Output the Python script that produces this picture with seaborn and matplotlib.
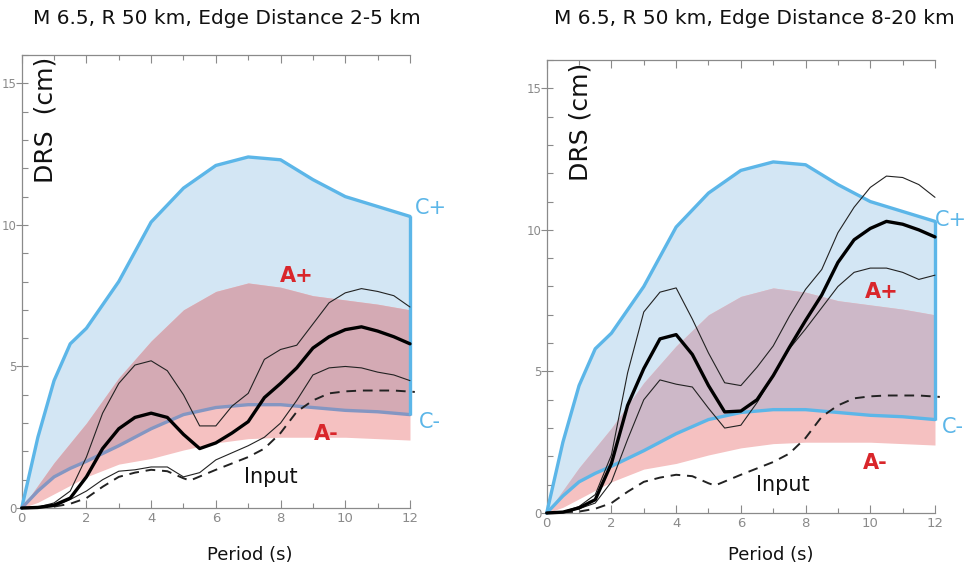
import numpy as np
import pandas as pd
import matplotlib
matplotlib.use("Agg")
import matplotlib.pyplot as plt
import seaborn as sns
from matplotlib.ticker import MultipleLocator

# ---------------- data ----------------
titles = ["M 6.5, R 50 km, Edge Distance 2-5 km", "M 6.5, R 50 km, Edge Distance 8-20 km"]

band_t = [0, 0.5, 1, 1.5, 2, 3, 4, 5, 6, 7, 8, 9, 10, 11, 12]
c_hi = [0, 2.5, 4.5, 5.8, 6.35, 8.0, 10.1, 11.3, 12.1, 12.4, 12.3, 11.6, 11.0, 10.65, 10.3]
c_lo = [0, 0.6, 1.1, 1.4, 1.65, 2.2, 2.8, 3.3, 3.55, 3.65, 3.65, 3.55, 3.45, 3.4, 3.3]
a_hi = [0, 0.8, 1.6, 2.3, 3.0, 4.6, 5.9, 7.0, 7.65, 7.95, 7.8, 7.5, 7.35, 7.2, 7.0]
a_lo = [0, 0.2, 0.5, 0.8, 1.1, 1.55, 1.75, 2.05, 2.3, 2.45, 2.5, 2.5, 2.5, 2.45, 2.4]

input_t = [0, 1, 1.5, 2, 2.5, 3, 3.5, 4, 4.5, 5, 5.2, 6, 7, 7.5, 8, 8.5, 9, 9.5, 10, 10.5, 11, 11.5, 12.15]
input_v = [0, 0.05, 0.15, 0.35, 0.75, 1.1, 1.25, 1.35, 1.3, 1.05, 0.97, 1.35, 1.8, 2.1, 2.65, 3.4, 3.8, 4.05, 4.12, 4.15, 4.15, 4.15, 4.1]

line_t = [0, 0.5, 1, 1.5, 2, 2.5, 3, 3.5, 4, 4.5, 5, 5.5, 6, 6.5, 7, 7.5, 8, 8.5, 9, 9.5, 10, 10.5, 11, 11.5, 12]
# left panel (edge distance 2-5 km)
left_mean = [0, 0.02, 0.1, 0.35, 1.1, 2.1, 2.8, 3.2, 3.35, 3.2, 2.6, 2.1, 2.3, 2.65, 3.05, 3.9, 4.4, 4.95, 5.65, 6.05, 6.3, 6.4, 6.25, 6.05, 5.8]
left_upper = [0, 0.03, 0.18, 0.6, 1.8, 3.35, 4.4, 5.05, 5.2, 4.85, 4.0, 2.9, 2.9, 3.6, 4.05, 5.25, 5.6, 5.75, 6.5, 7.25, 7.6, 7.75, 7.65, 7.5, 7.1]
left_lower = [0, 0.01, 0.05, 0.3, 0.6, 1.0, 1.3, 1.35, 1.45, 1.45, 1.1, 1.25, 1.7, 1.95, 2.2, 2.5, 3.0, 3.8, 4.7, 4.95, 5.0, 4.95, 4.8, 4.7, 4.5]
# right panel (edge distance 8-20 km)
right_mean = [0, 0.03, 0.18, 0.47, 1.75, 3.8, 5.1, 6.15, 6.3, 5.6, 4.5, 3.57, 3.6, 4.0, 4.85, 5.85, 6.8, 7.7, 8.85, 9.65, 10.05, 10.3, 10.2, 10.0, 9.75]
right_upper = [0, 0.04, 0.23, 0.65, 2.05, 4.95, 7.1, 7.8, 7.95, 6.85, 5.65, 4.6, 4.5, 5.15, 5.9, 6.95, 7.9, 8.6, 9.9, 10.8, 11.5, 11.9, 11.85, 11.6, 11.15]
right_lower = [0, 0.02, 0.15, 0.35, 1.1, 2.6, 4.0, 4.7, 4.55, 4.45, 3.7, 3.0, 3.1, 3.9, 4.85, 5.8, 6.5, 7.25, 8.0, 8.5, 8.65, 8.65, 8.5, 8.25, 8.4]

x_ticks = [0, 2, 4, 6, 8, 10, 12]
y_ticks = [0, 5, 10, 15]

# ---------------- style ----------------
sns.set_style("ticks")
plt.rcParams["font.family"] = ["DejaVu Sans"]

C_LINE = "#5cb6e8"
C_FILL = "#d3e6f4"
A_PINK = "#f5c1c1"
A_OVER = ["#d4aab4", "#cdb8c8"]
C_LO_COL = ["#8496c2", "#5cb6e8"]
RED = "#d9262b"
GREY = "#8a8a8a"

fig = plt.figure(figsize=(9.69, 5.71), dpi=100)
axes = [fig.add_axes([0.0224, 0.1103, 0.4007, 0.7933]),
        fig.add_axes([0.5642, 0.1016, 0.4007, 0.7933])]

panels = [(left_mean, left_upper, left_lower), (right_mean, right_upper, right_lower)]
labels_pos = [
    {"A+": (8.5, 8.2), "A-": (9.4, 2.6), "C+": (12.65, 10.6), "C-": (12.6, 3.05), "Input": (7.7, 1.1)},
    {"A+": (10.35, 7.8), "A-": (10.15, 1.75), "C+": (12.5, 10.35), "C-": (12.55, 3.05), "Input": (7.3, 1.0)},
]
ylabel_text = ["DRS  (cm)", "DRS (cm)"]
ylabel_pos = [(0.06, 0.857), (0.086, 0.863)]
fig_xlab = [0.258, 0.795]
fig_title = [0.234, 0.778]

bt = np.array(band_t)
for i, ax in enumerate(axes):
    mean, upper, lower = panels[i]
    # C band
    ax.fill_between(bt, c_lo, c_hi, color=C_FILL, lw=0, zorder=1)
    # A band (pink on white, mauve where overlapping the C band)
    ax.fill_between(bt, a_lo, a_hi, color=A_PINK, lw=0, zorder=2)
    ov_lo = np.maximum(np.array(a_lo), np.array(c_lo))
    ax.fill_between(bt, ov_lo, a_hi, where=np.array(a_hi) >= ov_lo, interpolate=True,
                    color=A_OVER[i], lw=0, zorder=3)
    # C lines
    df_c = pd.DataFrame({"t": band_t, "hi": c_hi, "lo": c_lo})
    sns.lineplot(data=df_c, x="t", y="hi", ax=ax, color=C_LINE, lw=2.4, zorder=5, clip_on=False)
    sns.lineplot(data=df_c, x="t", y="lo", ax=ax, color=C_LO_COL[i], lw=2.4, zorder=5, clip_on=False)
    ax.vlines(band_t[-1], c_lo[-1], c_hi[-1], color=C_LINE, lw=2.4, zorder=5, clip_on=False)

    # input
    df_in = pd.DataFrame({"t": input_t, "v": input_v})
    sns.lineplot(data=df_in, x="t", y="v", ax=ax, color="#222222", lw=1.4,
                 linestyle=(0, (5, 3.5)), zorder=6, clip_on=False)
    # black curves
    df_l = pd.DataFrame({"t": line_t, "mean": mean, "upper": upper, "lower": lower})
    sns.lineplot(data=df_l, x="t", y="upper", ax=ax, color="#222222", lw=0.8, zorder=7, clip_on=False)
    sns.lineplot(data=df_l, x="t", y="lower", ax=ax, color="#222222", lw=0.8, zorder=7, clip_on=False)
    sns.lineplot(data=df_l, x="t", y="mean", ax=ax, color="#000000", lw=2.4, zorder=8, clip_on=False)

    ax.set_xlim(0, 12)
    ax.set_ylim(0, 16)
    ax.set_xlabel("")
    ax.set_ylabel("")
    ax.set_xticks(x_ticks)
    ax.xaxis.set_minor_locator(MultipleLocator(1))
    ax.set_yticks(y_ticks)
    ax.yaxis.set_minor_locator(MultipleLocator(1))
    ax.tick_params(axis="x", which="major", direction="in", length=6, width=0.8,
                   color=GREY, labelcolor=GREY, labelsize=9.5, pad=3, top=True)
    ax.tick_params(axis="x", which="minor", direction="in", length=3.5, width=0.8,
                   color=GREY, top=True)
    ax.tick_params(axis="y", which="major", direction="inout", length=8, width=0.8,
                   color=GREY, labelcolor=GREY, labelsize=8.5, pad=0)
    ax.tick_params(axis="y", which="minor", direction="in", length=4, width=0.8, color=GREY)
    for s in ["left", "bottom", "top"]:
        ax.spines[s].set_color(GREY)
        ax.spines[s].set_linewidth(0.9)
    ax.spines["right"].set_visible(False)
    ax.spines["top"].set_visible(True)
    ax.set_facecolor("white")

    lp = labels_pos[i]
    ax.text(*lp["A+"], "A+", color=RED, fontsize=15, fontweight="bold", ha="center", va="center", zorder=10)
    ax.text(*lp["A-"], "A-", color=RED, fontsize=15, fontweight="bold", ha="center", va="center", zorder=10)
    ax.text(*lp["C+"], "C+", color=C_LINE, fontsize=15, ha="center", va="center", clip_on=False, zorder=10)
    ax.text(*lp["C-"], "C-", color=C_LINE, fontsize=15, ha="center", va="center", clip_on=False, zorder=10)
    ax.text(*lp["Input"], "Input", color="#111111", fontsize=15, ha="center", va="center", zorder=10)

    ax.text(*ylabel_pos[i], ylabel_text[i], transform=ax.transAxes, rotation=90,
            fontsize=18, ha="center", va="center", color="#111111", zorder=10)
    fig.text(fig_xlab[i], 0.028, "Period (s)", fontsize=13, ha="center", va="center", color="#111111")
    fig.text(fig_title[i], 0.968, titles[i], fontsize=14.5, ha="center", va="center", color="#111111")

fig.savefig("out.png", dpi=100)
